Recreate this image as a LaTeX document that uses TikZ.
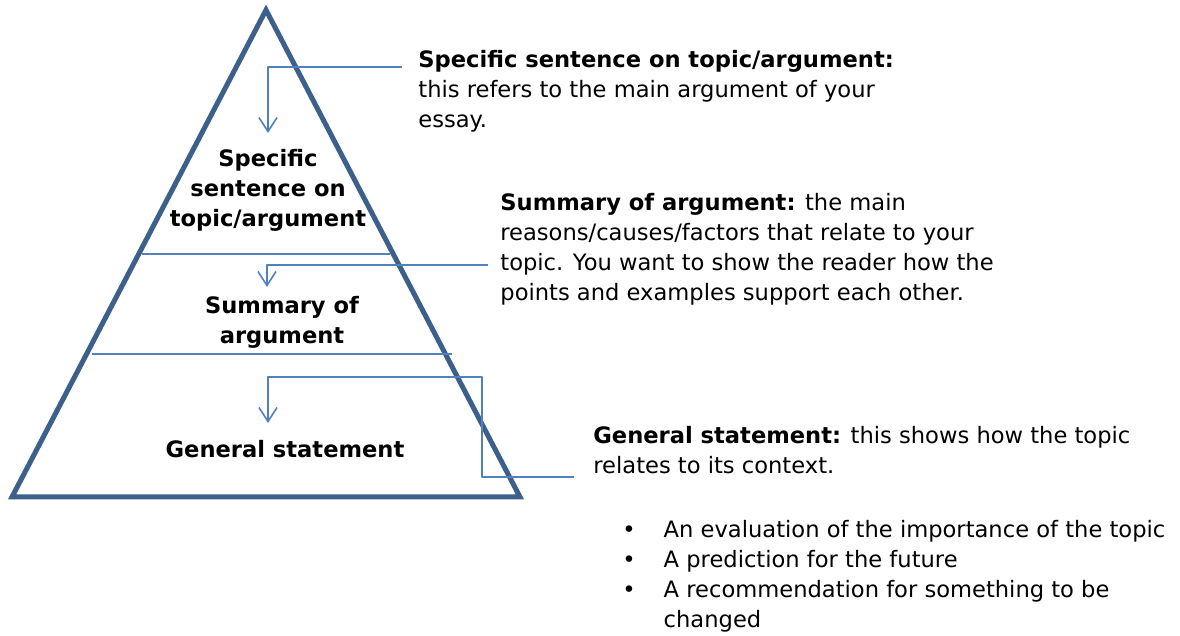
\documentclass[tikz,border=0pt]{standalone}
\usepackage{fontspec}
\setmainfont{DejaVu Sans}
\usetikzlibrary{arrows.meta}
\definecolor{pyrblue}{RGB}{61,95,140}
\definecolor{lineblue}{RGB}{79,129,189}

\begin{document}
\begin{tikzpicture}[x=0.5pt, y=-0.5pt, font=\fontsize{11.3}{15}\selectfont, line join=round, line cap=round,
	pyr/.style={draw=pyrblue, line width=2.5pt, line join=miter},
	sep/.style={draw=lineblue, line width=0.8pt, line cap=butt},
	con/.style={draw=lineblue, line width=0.8pt, line cap=butt, -{Straight Barb[length=7pt,width=9pt]}},
	lbl/.style={align=center, font=\fontsize{11.3}{15}\selectfont\bfseries, inner sep=0pt},
	note/.style={align=left, anchor=north west, inner sep=0pt}]
	\useasboundingbox (0,0) rectangle (1180,636);
	\path	(266,10) coordinate (T)
		(12,497) coordinate (L)
		(520,497) coordinate (R)
		(142,254) coordinate (S1) (390,254) coordinate (E1)
		(92,354) coordinate (S2) (452,354) coordinate (E2)
		(402,67) coordinate (C1) (268,133) coordinate (A1)
		(488,265) coordinate (C2) (267,287) coordinate (A2)
		(574,477) coordinate (C3) (482,377) coordinate (K3) (268,423) coordinate (A3);
	\draw[pyr] (T)--(R)--(L)--cycle;
	\draw[sep] (S1)--(E1) (S2)--(E2);
	% labels inside the pyramid
	\node[lbl] (top) at (268,190) {Specific\\ sentence on\\ topic/argument};
	\node[lbl] (mid) at (282,322) {Summary of\\ argument};
	\node[lbl] (base) at (285,449) {General statement};
	% notes on the right
	\node[note] (ntop) at (418,50) {\textbf{Specific sentence on topic/argument:}\\ this refers to the main argument of your\\ essay.};
	\node[note] (nmid) at (500,193) {\textbf{Summary of argument:} the main\\ reasons/causes/factors that relate to your\\ topic. You want to show the reader how the\\ points and examples support each other.};
	\node[note] (nbase) at (593,426) {\textbf{General statement:} this shows how the topic\\ relates to its context.};
	\node[note] (nlist) at (622,516) {\begin{tabular}{@{}l@{\hspace{14pt}}l@{}}
		•&An evaluation of the importance of the topic\\
		•&A prediction for the future\\
		•&A recommendation for something to be\\
		&changed
	\end{tabular}};
	\draw[con] (C1) -| (A1);
	\draw[con] (C2) -| (A2);
	\draw[con] (C3) -| (K3) -| (A3);
\end{tikzpicture}
\end{document}
